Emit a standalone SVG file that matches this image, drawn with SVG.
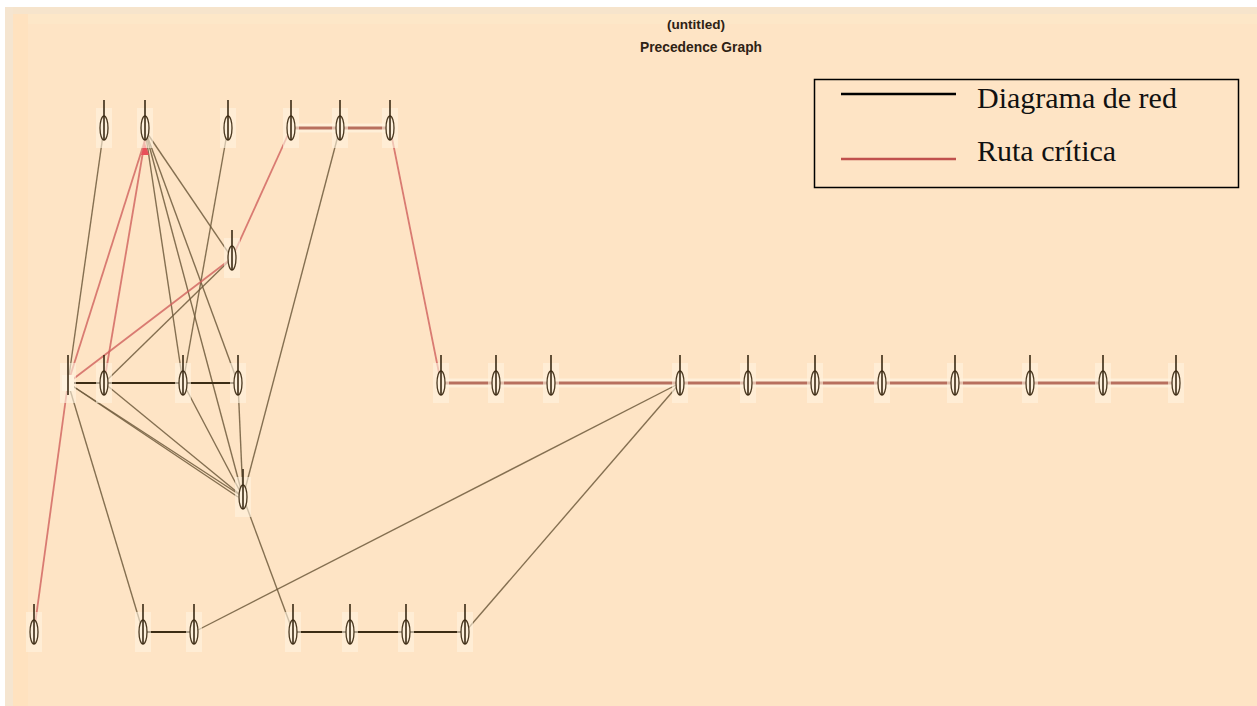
<svg xmlns="http://www.w3.org/2000/svg" width="1257" height="706" viewBox="0 0 1257 706">
<style>
.e{stroke:#6e5a3c;stroke-width:1.4;fill:none;opacity:0.85}
.h{stroke:#3c2c14;stroke-width:1.8;fill:none}
.r{stroke:#d0605c;stroke-width:1.8;fill:none;opacity:0.8}
.rh{stroke:#b8705e;stroke-width:3;fill:none}
.halo{stroke:#fff4e0;stroke-width:9;fill:none;opacity:0.7}
.n ellipse{fill:#fdf0dc;stroke:#4a3820;stroke-width:1.3}
.n line{stroke:#3a2a14;stroke-width:1.6}
.n rect{fill:#fff3df;opacity:0.6}
.lt{font-family:"Liberation Serif","Times New Roman",serif;font-size:30px;fill:#111}
.tt{font-family:"Liberation Sans",Arial,sans-serif;fill:#2e2214;font-weight:bold}
</style>
<rect x="0" y="0" width="1257" height="706" fill="#fee4c5"/>
<rect x="0" y="0" width="1257" height="7" fill="#ffffff"/>
<rect x="0" y="7" width="1257" height="7" fill="#f6e4cc"/>
<rect x="0" y="14" width="1257" height="10" fill="#fde7c8"/>
<rect x="0" y="0" width="5" height="706" fill="#ffffff"/>
<rect x="5" y="7" width="8" height="699" fill="#f5e5d0"/>
<rect x="13" y="14" width="15" height="692" fill="#ffe2bf"/>
<text class="tt" x="696" y="29" font-size="13" text-anchor="middle" textLength="58" lengthAdjust="spacingAndGlyphs">(untitled)</text>
<text class="tt" x="701" y="52" font-size="14" text-anchor="middle" textLength="122" lengthAdjust="spacingAndGlyphs">Precedence Graph</text>
<g id="connectors">
<line class="halo" x1="441" y1="383" x2="1176" y2="383"/>
<line class="halo" x1="291" y1="128" x2="390" y2="128"/>
<line class="e" x1="68" y1="383" x2="104" y2="128"/>
<line class="e" x1="68" y1="383" x2="143" y2="632"/>
<line class="e" x1="68" y1="383" x2="243" y2="497"/>
<line class="e" x1="68" y1="383" x2="238" y2="497"/>
<line class="e" x1="104" y1="383" x2="243" y2="497"/>
<line class="e" x1="104" y1="383" x2="232" y2="258"/>
<line class="e" x1="183" y1="383" x2="243" y2="497"/>
<line class="e" x1="238" y1="383" x2="243" y2="497"/>
<line class="e" x1="145" y1="130" x2="183" y2="383"/>
<line class="e" x1="145" y1="130" x2="232" y2="258"/>
<line class="e" x1="145" y1="130" x2="243" y2="497"/>
<line class="e" x1="145" y1="130" x2="238" y2="383"/>
<line class="e" x1="228" y1="128" x2="183" y2="383"/>
<line class="e" x1="340" y1="128" x2="243" y2="497"/>
<line class="e" x1="243" y1="497" x2="293" y2="632"/>
<line class="e" x1="194" y1="632" x2="680" y2="383"/>
<line class="e" x1="465" y1="632" x2="680" y2="383"/>
<line class="h" x1="68" y1="383" x2="238" y2="383"/>
<line class="h" x1="143" y1="632" x2="194" y2="632"/>
<line class="h" x1="293" y1="632" x2="465" y2="632"/>
<line class="r" x1="34" y1="632" x2="68" y2="383"/>
<line class="r" x1="68" y1="383" x2="145" y2="140"/>
<line class="r" x1="145" y1="140" x2="104" y2="383"/>
<line class="r" x1="68" y1="383" x2="232" y2="258" stroke-width="3"/>
<line class="r" x1="232" y1="258" x2="291" y2="128"/>
<line class="r" x1="390" y1="128" x2="441" y2="383"/>
<line class="rh" x1="291" y1="128" x2="390" y2="128"/>
<line class="rh" x1="441" y1="383" x2="1176" y2="383"/>
<polygon points="141,155 149,155 145,143" fill="#e8505a"/>
</g>
<g id="T1" class="n"><rect x="96" y="108" width="16" height="40"/><ellipse cx="104" cy="128" rx="4" ry="12"/><line x1="104" y1="100" x2="104" y2="140"/></g>
<g id="T2" class="n"><rect x="137" y="108" width="16" height="40"/><ellipse cx="145" cy="128" rx="4" ry="12"/><line x1="145" y1="100" x2="145" y2="140"/></g>
<g id="T3" class="n"><rect x="220" y="108" width="16" height="40"/><ellipse cx="228" cy="128" rx="4" ry="12"/><line x1="228" y1="100" x2="228" y2="140"/></g>
<g id="T4" class="n"><rect x="283" y="108" width="16" height="40"/><ellipse cx="291" cy="128" rx="4" ry="12"/><line x1="291" y1="100" x2="291" y2="140"/></g>
<g id="T5" class="n"><rect x="332" y="108" width="16" height="40"/><ellipse cx="340" cy="128" rx="4" ry="12"/><line x1="340" y1="100" x2="340" y2="140"/></g>
<g id="T6" class="n"><rect x="382" y="108" width="16" height="40"/><ellipse cx="390" cy="128" rx="4" ry="12"/><line x1="390" y1="100" x2="390" y2="140"/></g>
<g id="M10" class="n"><rect x="224" y="238" width="16" height="40"/><ellipse cx="232" cy="258" rx="4" ry="12"/><line x1="232" y1="230" x2="232" y2="270"/></g>
<g id="A" class="n"><rect x="60" y="363" width="16" height="40"/><rect x="62" y="375" width="12" height="16" fill="#d8c4b0" style="opacity:1"/><line x1="68" y1="355" x2="68" y2="395"/></g>
<g id="B" class="n"><rect x="96" y="363" width="16" height="40"/><ellipse cx="104" cy="383" rx="4" ry="12"/><line x1="104" y1="355" x2="104" y2="395"/></g>
<g id="C" class="n"><rect x="175" y="363" width="16" height="40"/><ellipse cx="183" cy="383" rx="4" ry="12"/><line x1="183" y1="355" x2="183" y2="395"/></g>
<g id="D" class="n"><rect x="230" y="363" width="16" height="40"/><ellipse cx="238" cy="383" rx="4" ry="12"/><line x1="238" y1="355" x2="238" y2="395"/></g>
<g id="E" class="n"><rect x="433" y="363" width="16" height="40"/><ellipse cx="441" cy="383" rx="4" ry="12"/><line x1="441" y1="355" x2="441" y2="395"/></g>
<g id="F" class="n"><rect x="488" y="363" width="16" height="40"/><ellipse cx="496" cy="383" rx="4" ry="12"/><line x1="496" y1="355" x2="496" y2="395"/></g>
<g id="G" class="n"><rect x="543" y="363" width="16" height="40"/><ellipse cx="551" cy="383" rx="4" ry="12"/><line x1="551" y1="355" x2="551" y2="395"/></g>
<g id="H" class="n"><rect x="672" y="363" width="16" height="40"/><ellipse cx="680" cy="383" rx="4" ry="12"/><line x1="680" y1="355" x2="680" y2="395"/></g>
<g id="I" class="n"><rect x="740" y="363" width="16" height="40"/><ellipse cx="748" cy="383" rx="4" ry="12"/><line x1="748" y1="355" x2="748" y2="395"/></g>
<g id="J" class="n"><rect x="807" y="363" width="16" height="40"/><ellipse cx="815" cy="383" rx="4" ry="12"/><line x1="815" y1="355" x2="815" y2="395"/></g>
<g id="K" class="n"><rect x="874" y="363" width="16" height="40"/><ellipse cx="882" cy="383" rx="4" ry="12"/><line x1="882" y1="355" x2="882" y2="395"/></g>
<g id="L" class="n"><rect x="947" y="363" width="16" height="40"/><ellipse cx="955" cy="383" rx="4" ry="12"/><line x1="955" y1="355" x2="955" y2="395"/></g>
<g id="M" class="n"><rect x="1022" y="363" width="16" height="40"/><ellipse cx="1030" cy="383" rx="4" ry="12"/><line x1="1030" y1="355" x2="1030" y2="395"/></g>
<g id="N" class="n"><rect x="1095" y="363" width="16" height="40"/><ellipse cx="1103" cy="383" rx="4" ry="12"/><line x1="1103" y1="355" x2="1103" y2="395"/></g>
<g id="O" class="n"><rect x="1168" y="363" width="16" height="40"/><ellipse cx="1176" cy="383" rx="4" ry="12"/><line x1="1176" y1="355" x2="1176" y2="395"/></g>
<g id="Q" class="n"><rect x="235" y="477" width="16" height="40"/><ellipse cx="243" cy="497" rx="4" ry="12"/><line x1="243" y1="469" x2="243" y2="509"/></g>
<g id="P1" class="n"><rect x="26" y="612" width="16" height="40"/><ellipse cx="34" cy="632" rx="4" ry="12"/><line x1="34" y1="604" x2="34" y2="644"/></g>
<g id="P2" class="n"><rect x="135" y="612" width="16" height="40"/><ellipse cx="143" cy="632" rx="4" ry="12"/><line x1="143" y1="604" x2="143" y2="644"/></g>
<g id="P3" class="n"><rect x="186" y="612" width="16" height="40"/><ellipse cx="194" cy="632" rx="4" ry="12"/><line x1="194" y1="604" x2="194" y2="644"/></g>
<g id="P4" class="n"><rect x="285" y="612" width="16" height="40"/><ellipse cx="293" cy="632" rx="4" ry="12"/><line x1="293" y1="604" x2="293" y2="644"/></g>
<g id="P5" class="n"><rect x="342" y="612" width="16" height="40"/><ellipse cx="350" cy="632" rx="4" ry="12"/><line x1="350" y1="604" x2="350" y2="644"/></g>
<g id="P6" class="n"><rect x="398" y="612" width="16" height="40"/><ellipse cx="406" cy="632" rx="4" ry="12"/><line x1="406" y1="604" x2="406" y2="644"/></g>
<g id="P7" class="n"><rect x="457" y="612" width="16" height="40"/><ellipse cx="465" cy="632" rx="4" ry="12"/><line x1="465" y1="604" x2="465" y2="644"/></g>
<g id="legend">
<rect x="814.5" y="79.5" width="424" height="108" fill="#fee4c5" stroke="#000" stroke-width="1.5"/>
<line x1="841" y1="94" x2="956" y2="94" stroke="#000" stroke-width="2.5"/>
<text class="lt" x="977" y="108">Diagrama de red</text>
<line x1="841" y1="159" x2="956" y2="159" stroke="#c0504d" stroke-width="2.5"/>
<text class="lt" x="977" y="161">Ruta crítica</text>
</g>
</svg>
